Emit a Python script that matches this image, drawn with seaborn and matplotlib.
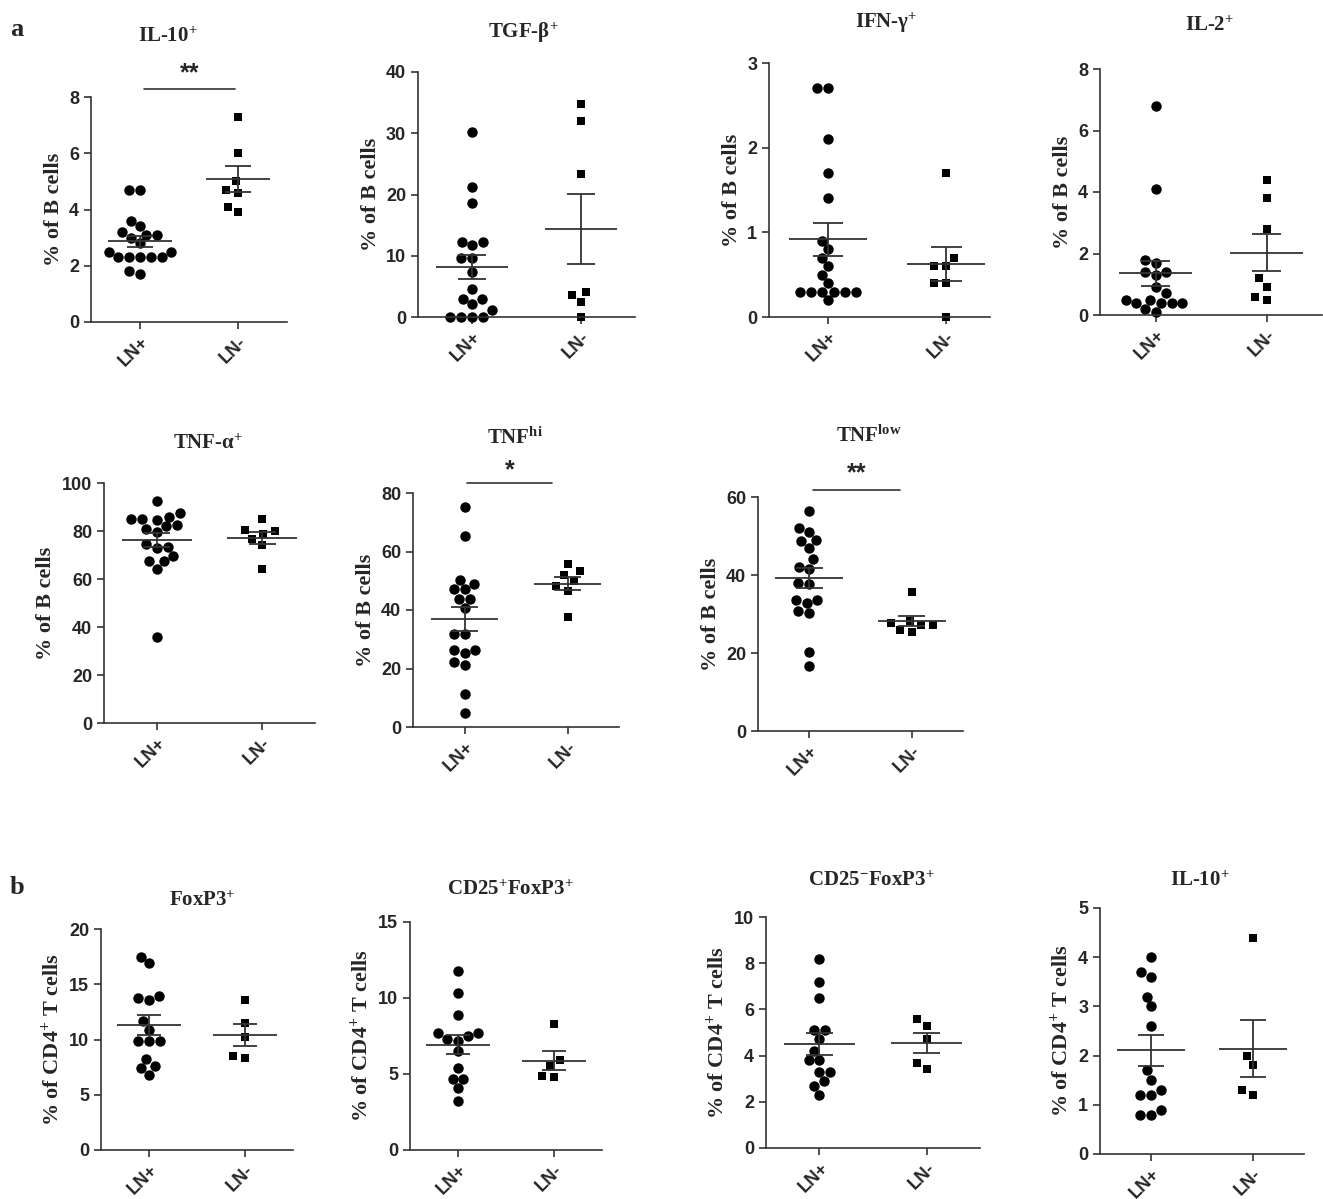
"""
Cytokine-producing B cells and regulatory CD4+ T cells, LN+ vs LN-
"""

import numpy as np
import pandas as pd
import matplotlib

matplotlib.use("Agg")
import matplotlib.pyplot as plt
import matplotlib.transforms as mtransforms
import seaborn as sns

groups = ["LN+", "LN-"]

# panel a: % of B cells
il10_b_pos = [4.7, 4.7, 3.6, 3.4, 3.2, 3.1, 3.1, 3.0, 2.8, 2.5, 2.5, 2.3, 2.3, 2.3, 2.3, 2.3, 1.7, 1.8]
il10_b_neg = [7.3, 6.0, 5.0, 4.7, 4.6, 4.1, 3.9]
tgfb_pos = [30.2, 21.3, 18.6, 12.3, 12.3, 11.8, 9.6, 9.6, 7.4, 4.6, 3.0, 3.0, 2.2, 1.1, 0, 0, 0, 0]
tgfb_neg = [34.8, 32.0, 23.3, 4.1, 3.6, 2.4, 0]
ifng_pos = [2.7, 2.7, 2.1, 1.7, 1.4, 0.9, 0.8, 0.7, 0.6, 0.5, 0.4, 0.3, 0.3, 0.3, 0.3, 0.3, 0.3, 0.2]
ifng_neg = [1.7, 0.7, 0.6, 0.6, 0.4, 0.4, 0]
il2_pos = [6.8, 4.1, 1.8, 1.7, 1.4, 1.4, 1.3, 0.9, 0.7, 0.5, 0.5, 0.4, 0.4, 0.4, 0.4, 0.2, 0.1]
il2_neg = [4.4, 3.8, 2.8, 1.2, 0.9, 0.6, 0.5]
tnfa_pos = [92.3, 87.7, 86.0, 84.7, 85.0, 85.1, 82.6, 81.9, 81.0, 79.5, 74.6, 73.5, 73.1, 69.6, 67.3, 67.5, 64.1, 35.8]
tnfa_neg = [85.0, 80.5, 80.0, 78.8, 76.7, 74.0, 64.2]
tnfhi_pos = [75.2, 65.4, 50.4, 49.0, 47.2, 47.2, 43.8, 43.8, 40.7, 31.8, 31.8, 26.4, 26.4, 25.3, 22.1, 21.3, 11.4, 4.8]
tnfhi_neg = [55.8, 53.2, 52.1, 49.9, 48.1, 46.6, 37.6]
tnflow_pos = [56.5, 52.0, 51.1, 49.0, 48.8, 47.0, 44.0, 42.1, 41.5, 37.8, 38.0, 33.7, 32.9, 33.7, 30.3, 30.7, 20.3, 16.7]
tnflow_neg = [35.7, 28.2, 27.8, 27.1, 27.1, 26.0, 25.3]

# panel b: % of CD4+ T cells
foxp3_pos = [17.5, 16.9, 13.9, 13.6, 13.8, 11.7, 10.9, 9.9, 9.9, 9.9, 8.2, 7.6, 7.4, 6.8]
foxp3_neg = [13.6, 11.5, 10.2, 8.3, 8.5]
cd25p_pos = [11.8, 10.3, 8.85, 7.7, 7.3, 7.2, 7.5, 7.7, 6.5, 5.4, 4.7, 4.7, 4.1, 3.2]
cd25p_neg = [8.3, 5.9, 5.5, 4.8, 4.9]
cd25n_pos = [8.2, 7.2, 6.5, 5.1, 5.1, 4.7, 4.2, 3.8, 3.8, 3.3, 3.3, 2.9, 2.7, 2.3]
cd25n_neg = [5.6, 5.3, 4.7, 3.7, 3.4]
il10_t_pos = [4.0, 3.7, 3.6, 3.2, 3.0, 2.6, 1.7, 1.5, 1.3, 1.2, 1.2, 0.9, 0.8, 0.8]
il10_t_neg = [4.4, 2.0, 1.8, 1.3, 1.2]

titles = [
    r"IL-10$^{\mathrm{+}}$", r"TGF-β$^{\mathrm{+}}$", r"IFN-γ$^{\mathrm{+}}$", r"IL-2$^{\mathrm{+}}$",
    r"TNF-α$^{\mathrm{+}}$", r"TNF$^{\mathrm{hi}}$", r"TNF$^{\mathrm{low}}$",
    r"FoxP3$^{\mathrm{+}}$", r"CD25$^{\mathrm{+}}$FoxP3$^{\mathrm{+}}$",
    r"CD25$^{\mathrm{-}}$FoxP3$^{\mathrm{+}}$", r"IL-10$^{\mathrm{+}}$",
]
ylabel_b = "% of B cells"
ylabel_t = r"% of CD4$^{\mathrm{+}}$ T cells"
yticks = [
    [0, 2, 4, 6, 8], [0, 10, 20, 30, 40], [0, 1, 2, 3], [0, 2, 4, 6, 8],
    [0, 20, 40, 60, 80, 100], [0, 20, 40, 60, 80], [0, 20, 40, 60],
    [0, 5, 10, 15, 20], [0, 5, 10, 15], [0, 2, 4, 6, 8, 10], [0, 1, 2, 3, 4, 5],
]
# significance marks: panel index -> label
sig_labels = {0: "**", 5: "*", 6: "**"}

panels = [
    (il10_b_pos, il10_b_neg), (tgfb_pos, tgfb_neg), (ifng_pos, ifng_neg), (il2_pos, il2_neg),
    (tnfa_pos, tnfa_neg), (tnfhi_pos, tnfhi_neg), (tnflow_pos, tnflow_neg),
    (foxp3_pos, foxp3_neg), (cd25p_pos, cd25p_neg), (cd25n_pos, cd25n_neg), (il10_t_pos, il10_t_neg),
]

# layout in pixels: left, right, top, bottom of each axes; title centre
W, H = 1323, 1199
boxes = [
    (91, 287, 97, 322), (418, 635, 72, 317), (769, 990, 63, 317), (1100, 1322, 69, 315),
    (104, 315, 483, 723), (413, 619, 493, 727), (758, 963, 497, 731),
    (101, 293, 929, 1150), (410, 602, 922, 1150), (766, 980, 917, 1148), (1100, 1304, 908, 1154),
]
title_pos = [
    (168, 37), (523, 33), (886, 23), (1210, 26),
    (208, 444), (515, 438), (869, 436),
    (202, 901), (510, 890), (871, 881), (1200, 881),
]
# significance bar: x range (category units), bar height / star height (axes fraction)
sig_geom = {0: (0.04, 0.97, 1.036, 1.05), 5: (0.02, 0.85, 1.043, 1.045), 6: (0.04, 0.89, 1.03, 1.05)}

sns.set_style("ticks")
plt.rcParams["font.family"] = ["Liberation Sans", "DejaVu Sans"]
plt.rcParams["font.weight"] = "bold"
plt.rcParams["mathtext.fontset"] = "custom"
plt.rcParams["mathtext.rm"] = "Liberation Serif:bold"
plt.rcParams["mathtext.it"] = "Liberation Serif:italic:bold"
plt.rcParams["mathtext.bf"] = "Liberation Serif:bold"

line_col = "#333333"
serif = ["Liberation Serif", "DejaVu Serif"]

fig = plt.figure(figsize=(W / 100, H / 100), dpi=100)
square_sets = []

for i, (pos, neg) in enumerate(panels):
    L, R, T, B = boxes[i]
    ax = fig.add_axes([L / W, 1 - B / H, (R - L) / W, (B - T) / H])
    df = pd.DataFrame({"group": ["LN+"] * len(pos) + ["LN-"] * len(neg), "value": pos + neg})

    sns.swarmplot(data=df[df["group"] == "LN+"], x="group", y="value", order=groups,
                  marker="o", size=7.5, color="black", linewidth=0, ax=ax, clip_on=False, zorder=2)
    # squares: swarm laid out with a bit of spacing, shrunk after layout
    sns.swarmplot(data=df[df["group"] == "LN-"], x="group", y="value", order=groups,
                  marker="s", size=8.2, color="black", linewidth=0, ax=ax, clip_on=False, zorder=2)
    square_sets.append(ax.collections[-1])

    # mean +/- SEM
    for j, vals in enumerate([pos, neg]):
        v = np.array(vals)
        m = v.mean()
        se = v.std(ddof=1) / np.sqrt(len(v))
        ax.hlines(m, j - 0.33, j + 0.33, color=line_col, lw=1.3, zorder=3)
        ax.vlines(j, m - se, m + se, color=line_col, lw=1.3, zorder=3)
        ax.hlines([m - se, m + se], j - 0.13, j + 0.13, color=line_col, lw=1.3, zorder=3)

    ticks = yticks[i]
    ax.set_ylim(0, ticks[-1])
    ax.set_yticks(ticks)
    ax.set_xlim(-0.5, 1.37 if i == 2 else 1.5)
    ax.set_xlabel("")
    ax.set_ylabel(ylabel_b if i < 7 else ylabel_t, family=serif, fontsize=16, fontweight="bold")
    ax.set_xticks([0, 1])
    ax.set_xticklabels(groups, rotation=45, ha="right", rotation_mode="anchor")
    ax.tick_params(axis="both", direction="out", length=5, width=1.2, color=line_col, labelsize=13)
    for lab in ax.get_xticklabels() + ax.get_yticklabels():
        lab.set_fontweight("bold")
    sns.despine(ax=ax)
    for sp in ["left", "bottom"]:
        ax.spines[sp].set_linewidth(1.2)
        ax.spines[sp].set_color(line_col)

    if i in sig_labels:
        x0, x1, yb, ys = sig_geom[i]
        trans = mtransforms.blended_transform_factory(ax.transData, ax.transAxes)
        ax.plot([x0, x1], [yb, yb], color=line_col, lw=1.2, transform=trans, clip_on=False)
        ax.text((x0 + x1) / 2, ys, sig_labels[i], transform=trans, ha="center", va="bottom",
                fontsize=18, fontweight="bold")

    tx, ty = title_pos[i]
    fig.text(tx / W, 1 - ty / H, titles[i], ha="center", va="center",
             family=serif, fontsize=15, fontweight="bold")

fig.text(10 / W, 1 - 30 / H, "a", family=serif, fontsize=19, fontweight="bold", va="center")
fig.text(10 / W, 1 - 888 / H, "b", family=serif, fontsize=19, fontweight="bold", va="center")

# lay out the swarms once, then freeze the square positions and shrink them
fig.canvas.draw()
for coll in square_sets:
    if "draw" in coll.__dict__:
        del coll.draw
    coll.set_sizes([6.3 ** 2])

fig.savefig("out.png", dpi=100)
plt.close(fig)
